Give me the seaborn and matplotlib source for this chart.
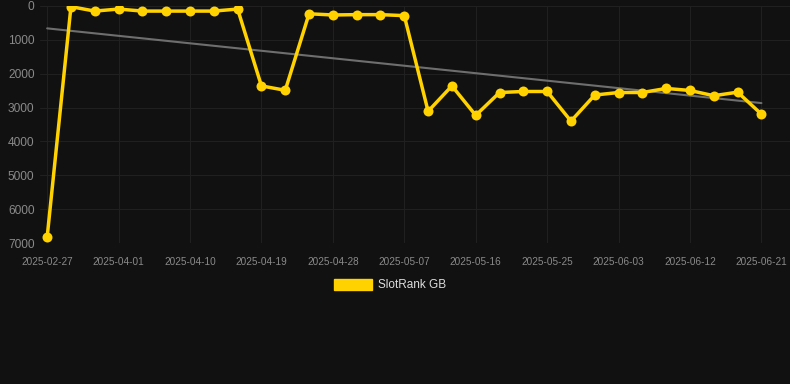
import numpy as np
import pandas as pd
import matplotlib
matplotlib.use("Agg")
import matplotlib.pyplot as plt
from matplotlib.patches import Patch
import seaborn as sns

# Data
dates = ["2025-02-27", "2025-03-26", "2025-03-29", "2025-04-01", "2025-04-04",
         "2025-04-07", "2025-04-10", "2025-04-13", "2025-04-16", "2025-04-19",
         "2025-04-22", "2025-04-25", "2025-04-28", "2025-05-01", "2025-05-04",
         "2025-05-07", "2025-05-10", "2025-05-13", "2025-05-16", "2025-05-19",
         "2025-05-22", "2025-05-25", "2025-05-28", "2025-05-31", "2025-06-03",
         "2025-06-06", "2025-06-09", "2025-06-12", "2025-06-15", "2025-06-18",
         "2025-06-21"]
ranks = [6830, 20, 150, 90, 150, 150, 150, 150, 90, 2360,
         2490, 230, 265, 255, 255, 285, 3110, 2360, 3230, 2555,
         2525, 2525, 3400, 2630, 2555, 2555, 2435, 2495, 2650, 2545,
         3195]
tick_labels = dates[::3]
series_name = "SlotRank GB"

df = pd.DataFrame({"idx": np.arange(len(dates)), "date": dates, "rank": ranks})

sns.set_style("dark")
bg = "#111111"
plt.rcParams["font.family"] = ["Liberation Sans", "DejaVu Sans"]

fig = plt.figure(figsize=(7.9, 3.84), dpi=100, facecolor=bg)
ax = fig.add_axes([40 / 790, 1 - 243 / 384, 750 / 790, 237 / 384])
ax.set_facecolor(bg)

# trend line (linear fit)
coef = np.polyfit(df["idx"], df["rank"], 1)
trend = np.polyval(coef, df["idx"])
sns.lineplot(x=df["idx"], y=trend, ax=ax, color="#6e6e6e", linewidth=1.5, zorder=2)

sns.lineplot(data=df, x="idx", y="rank", ax=ax, color="#FFD200", linewidth=2.5,
             marker="o", markersize=7.2, markeredgewidth=0, zorder=3)

ax.set_ylim(7000, 0)
ax.set_xlim(-0.3, 31.2)
ax.set_yticks(np.arange(0, 7001, 1000))
ax.set_xticks(df["idx"][::3])
ax.set_xticklabels(tick_labels)
ax.grid(True, color="#202020", linewidth=0.8)
ax.set_axisbelow(True)
for s in ax.spines.values():
    s.set_visible(False)
ax.tick_params(axis="x", colors="#8a8a8a", labelsize=7.2, length=0, pad=10)
ax.tick_params(axis="y", colors="#8a8a8a", labelsize=8.6, length=0, pad=4)
ax.set_xlabel("")
ax.set_ylabel("")

handle = Patch(facecolor="#FFD200", edgecolor="#FFD200")
fig.legend([handle], [series_name], loc="center", bbox_to_anchor=(390 / 790, 1 - 285 / 384),
           frameon=False, labelcolor="#dddddd", fontsize=8.5, handlelength=3.3,
           handleheight=1.1, handletextpad=0.5)

fig.savefig("out.png", dpi=100, facecolor=bg)
